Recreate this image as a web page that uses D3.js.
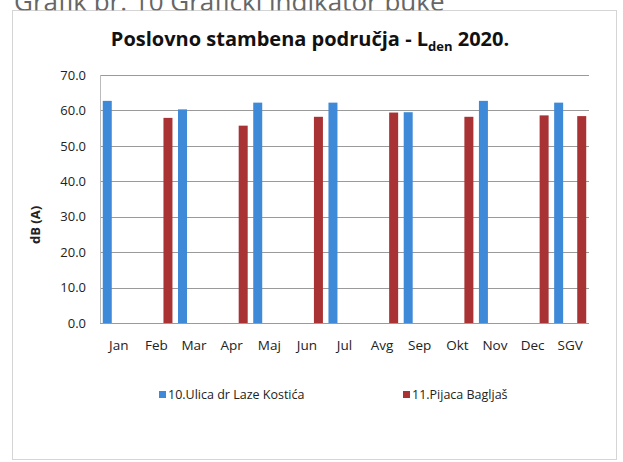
<!DOCTYPE html>
<meta charset="utf-8">
<head>
	<style type="text/css">
		body { margin: 0; background: #fff; }
		text { font-family: "Open Sans", sans-serif; }
		.tick text { fill: #222; }
	</style>
	<title>Poslovno stambena područja</title>
</head>
<script src="https://cdn.jsdelivr.net/npm/d3@7"></script>
<svg width="623" height="462" id="svg1"></svg>

<script>
	// data
	const months = ["Jan","Feb","Mar","Apr","Maj","Jun","Jul","Avg","Sep","Okt","Nov","Dec","SGV"];
	const seriesNames = ["10.Ulica dr Laze Kostića", "11.Pijaca Bagljaš"];
	const ulicaValues = [62.7, null, 60.3, null, 62.2, null, 62.2, null, 59.5, null, 62.7, null, 62.2];
	const pijacaValues = [null, 57.9, null, 55.7, null, 58.2, null, 59.4, null, 58.2, null, 58.6, 58.4];
	const yTicks = [0, 10, 20, 30, 40, 50, 60, 70];
	const colors = ["#3f8ad8", "#a93234"];

	const svg1 = d3.select('#svg1');

	// scanned page heading, cut at the top
	svg1.append('text')
		.attr('x', 14)
		.attr('y', 11)
		.attr('font-size', '26px')
		.attr('fill', '#666')
		.text('Grafik br. 10 Grafički indikator buke');

	// chart frame
	svg1.append('rect')
		.attr('x', 12.5)
		.attr('y', 10.5)
		.attr('width', 604)
		.attr('height', 449)
		.attr('fill', '#fff')
		.attr('stroke', '#aaa')
		.attr('stroke-dasharray', '1,1');

	const margin = { top: 75, left: 100 };
	const innerWidth = 489;
	const innerHeight = 248;

	const g1 = svg1.append('g')
		.attr('transform', `translate(${margin.left},${margin.top})`);

	const xScale = d3.scaleBand()
		.domain(months)
		.range([0, innerWidth]);

	const xInner = d3.scaleBand()
		.domain([0, 1])
		.range([0, xScale.bandwidth()])
		.paddingInner(0.61)
		.paddingOuter(0.12);

	const yScale = d3.scaleLinear()
		.domain([0, 70])
		.range([innerHeight, 0]);

	// gridlines
	g1.selectAll('.grid')
		.data(yTicks)
		.enter().append('line')
		.attr('class', 'grid')
		.attr('x1', 0)
		.attr('x2', innerWidth)
		.attr('y1', d => Math.round(yScale(d)) + 0.5)
		.attr('y2', d => Math.round(yScale(d)) + 0.5)
		.attr('stroke', '#9a9a9a')
		.attr('stroke-width', 1);

	// left edge of plot area
	g1.append('line')
		.attr('x1', 0.5).attr('x2', 0.5)
		.attr('y1', 0).attr('y2', innerHeight)
		.attr('stroke', '#bbb');

	const yAxis = d3.axisLeft(yScale)
		.tickValues(yTicks)
		.tickFormat(d3.format('.1f'))
		.tickSize(0)
		.tickPadding(14);

	const yAxisG = g1.append('g').call(yAxis);
	yAxisG.select('.domain').remove();
	yAxisG.selectAll('text').attr('font-size', '13px');

	const xAxis = d3.axisBottom(xScale)
		.tickSize(0)
		.tickPadding(17);

	const xAxisG = g1.append('g')
		.attr('transform', `translate(0,${innerHeight})`)
		.call(xAxis);
	xAxisG.select('.domain').remove();
	xAxisG.selectAll('text').attr('font-size', '13.5px');

	// bars
	const rows = months.map((m, i) => [
		{ month: m, s: 0, value: ulicaValues[i] },
		{ month: m, s: 1, value: pijacaValues[i] }
	]).flat().filter(d => d.value !== null);

	g1.selectAll('.bar')
		.data(rows)
		.enter().append('rect')
		.attr('class', 'bar')
		.attr('x', d => xScale(d.month) + xInner(d.s))
		.attr('y', d => yScale(d.value))
		.attr('width', xInner.bandwidth())
		.attr('height', d => innerHeight - yScale(d.value))
		.attr('fill', d => colors[d.s]);

	// y label
	svg1.append('text')
		.attr('transform', 'translate(40,225) rotate(-90)')
		.attr('text-anchor', 'middle')
		.attr('font-size', '13px')
		.attr('font-weight', 'bold')
		.attr('fill', '#222')
		.text('dB (A)');

	// title
	const title = svg1.append('text')
		.attr('x', 310)
		.attr('y', 46)
		.attr('text-anchor', 'middle')
		.attr('font-size', '20px')
		.attr('font-weight', 'bold')
		.attr('fill', '#111');
	title.append('tspan').text('Poslovno stambena područja - L');
	title.append('tspan').attr('font-size', '13px').attr('dy', 5).text('den');
	title.append('tspan').attr('dy', -5).text(' 2020.');

	// legend
	const legendX = [159, 403];
	const legend = svg1.selectAll('.legend')
		.data(seriesNames)
		.enter().append('g')
		.attr('class', 'legend')
		.attr('transform', (d, i) => `translate(${legendX[i]},395)`);

	legend.append('rect')
		.attr('x', 0)
		.attr('y', -4)
		.attr('width', 7)
		.attr('height', 7)
		.attr('fill', (d, i) => colors[i]);

	legend.append('text')
		.attr('x', 9)
		.attr('y', 0)
		.attr('dy', '.35em')
		.attr('font-size', '12.5px')
		.attr('fill', '#222')
		.text(d => d);
</script>
